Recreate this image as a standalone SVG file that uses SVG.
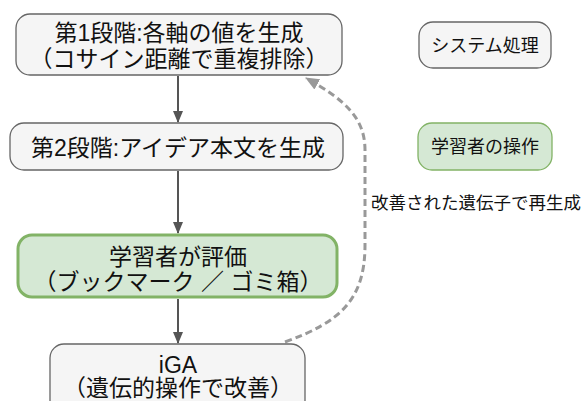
<svg xmlns="http://www.w3.org/2000/svg" width="583" height="401" viewBox="0 0 583 401">
<defs>
<style>
.sys{fill:#f5f5f5;stroke:#666;stroke-width:1.3}
.usr{fill:#d5e8d4;stroke:#82b366;stroke-width:1.3}
.usr3{fill:#d5e8d4;stroke:#82b366;stroke-width:3}
text{font-family:"Liberation Sans","Noto Sans CJK JP",sans-serif;fill:#111;text-anchor:middle;dominant-baseline:central}
.m{font-size:23px}
.s{font-size:17.5px}
.l{font-size:18px}
.edge{stroke:#555;stroke-width:2;fill:none}
.dash{stroke:#999;stroke-width:3;fill:none;stroke-dasharray:7 4}
</style>
<marker id="ah" markerWidth="12" markerHeight="12" viewBox="0 0 12 12" refX="11" refY="6" orient="auto" markerUnits="userSpaceOnUse">
<path d="M0,1 L12,6 L0,11 Z" fill="#555"/>
</marker>
<marker id="ahg" markerWidth="14" markerHeight="14" viewBox="0 0 14 14" refX="13" refY="7" orient="auto" markerUnits="userSpaceOnUse">
<path d="M0,1 L14,7 L0,13 Z" fill="#999"/>
</marker>
</defs>
<g id="connectors">
<line class="edge" x1="178" y1="76" x2="178" y2="122" marker-end="url(#ah)"/>
<line class="edge" x1="178" y1="171" x2="178" y2="233" marker-end="url(#ah)"/>
<line class="edge" x1="178" y1="299" x2="178" y2="343" marker-end="url(#ah)"/>
<path class="dash" d="M285,342 C340,322 365,300 365,245 L365,150 C365,118 345,100 306,78" marker-end="url(#ahg)"/>
<text class="s" x="476" y="203">改善された遺伝子で再生成</text>
</g>
<g id="n1">
<rect class="sys" x="16" y="14" width="326" height="61" rx="14"/>
<text class="m" x="179" y="33">第1段階:各軸の値を生成</text>
<text class="m" x="179" y="59">（コサイン距離で重複排除）</text>
</g>
<g id="n2">
<rect class="sys" x="10" y="123" width="333" height="47" rx="14"/>
<text class="m" x="178" y="148">第2段階:アイデア本文を生成</text>
</g>
<g id="n3">
<rect class="usr3" x="18" y="235" width="319" height="62" rx="14"/>
<text class="m" x="178" y="257">学習者が評価</text>
<text class="m" x="178" y="282">（ブックマーク ／ ゴミ箱）</text>
</g>
<g id="n4">
<rect class="sys" x="50" y="344" width="255" height="70" rx="14"/>
<text class="m" x="178" y="365">iGA</text>
<text class="m" x="178" y="388">（遺伝的操作で改善）</text>
</g>
<g id="legend-sys">
<rect class="sys" x="419" y="22" width="132" height="46" rx="14"/>
<text class="l" x="485" y="46">システム処理</text>
</g>
<g id="legend-usr">
<rect class="usr" x="418" y="123" width="134" height="47" rx="14"/>
<text class="l" x="485" y="147">学習者の操作</text>
</g>
</svg>
